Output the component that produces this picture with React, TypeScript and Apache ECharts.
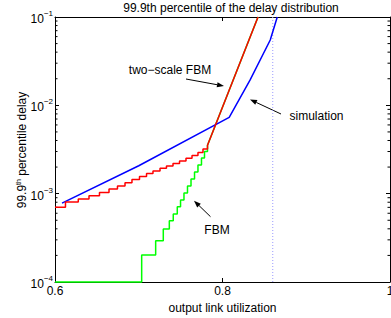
import React, { useEffect, useRef } from 'react';
import * as echarts from 'echarts';

// ---- data ----
const xTickValues = [0.6, 0.8, 1.0];
const yRange = [1e-4, 1e-1];

const simX = [0.6084, 0.7, 0.808, 0.833, 0.857, 0.8654];
const simY = [7.83e-4, 2.07e-3, 7.32e-3, 1.94e-2, 5.49e-2, 0.1];

const twoScaleStepX = [0.6, 0.6125, 0.6278, 0.6406, 0.6531, 0.6645, 0.6746, 0.6836, 0.6919, 0.7009, 0.7093, 0.717, 0.7254, 0.7331, 0.7409, 0.7487, 0.7564, 0.7636, 0.7707, 0.7767, 0.7821];
const twoScaleStepY = [7.01e-4, 8.05e-4, 8.7e-4, 9.46e-4, 1.031e-3, 1.129e-3, 1.221e-3, 1.33e-3, 1.446e-3, 1.564e-3, 1.691e-3, 1.805e-3, 1.936e-3, 2.056e-3, 2.195e-3, 2.343e-3, 2.514e-3, 2.704e-3, 2.924e-3, 3.203e-3, 3.527e-3];

const fbmStepX = [0.6, 0.7035, 0.7202, 0.7293, 0.7365, 0.7412, 0.746, 0.7499, 0.754, 0.7582, 0.7624, 0.7666, 0.7707, 0.7749, 0.7785, 0.7821];
const fbmStepY = [1e-4, 2.02e-4, 2.93e-4, 3.98e-4, 4.94e-4, 5.88e-4, 7.12e-4, 8.47e-4, 1.017e-3, 1.221e-3, 1.466e-3, 1.758e-3, 2.11e-3, 2.533e-3, 3.0e-3, 3.527e-3];

// common steep (large-buffer) branch of both models
const steepX = [0.7821, 0.8424];
const steepY = [3.527e-3, 0.1];

const limitUtil = [0.86, 0.86];
const limitY = [1e-4, 1e-1];

const minorMantissas = [2, 3, 4, 5, 6, 7, 8, 9];
const minorDecades = [1e-4, 1e-3, 1e-2];

const FONT = '"Liberation Sans", Arial, Helvetica, sans-serif';
const FS = 12;

function stairs(xs: number[], ys: number[]) {
  const pts: number[][] = [];
  for (let i = 0; i < xs.length; i++) {
    pts.push([xs[i], ys[i]]);
    if (i + 1 < xs.length) pts.push([xs[i + 1], ys[i]]);
  }
  return pts;
}
function zip(xs: number[], ys: number[]) {
  return xs.map((x, i) => [x, ys[i]]);
}

function arrow(x1: number, y1: number, x2: number, y2: number) {
  const dx = x2 - x1, dy = y2 - y1;
  const L = Math.hypot(dx, dy);
  const ux = dx / L, uy = dy / L;
  const hl = 7, hw = 2.6;
  const bx = x2 - ux * hl, by = y2 - uy * hl;
  return [
    { type: 'line', shape: { x1, y1, x2: bx, y2: by }, style: { stroke: '#000', lineWidth: 1 }, silent: true },
    {
      type: 'polygon',
      shape: { points: [[x2, y2], [bx - uy * hw, by + ux * hw], [bx + uy * hw, by - ux * hw]] },
      style: { fill: '#000' },
      silent: true,
    },
  ];
}

export default function App() {
  const ref = useRef<HTMLDivElement>(null);
  useEffect(() => {
    if (!ref.current) return;
    const chart = echarts.init(ref.current, null, { renderer: 'svg' });

    const minorData: number[][] = [];
    minorDecades.forEach((d) => minorMantissas.forEach((m) => minorData.push([xTickValues[0], m * d])));

    const expLabel = (v: number) => {
      const e = Math.round(Math.log10(v));
      return `{b|10}{s|${e < 0 ? '\u2212' + -e : e}}`;
    };

    const axisLineStyle = { color: '#000', width: 1 };
    const baseY = {
      type: 'log',
      logBase: 10,
      min: yRange[0],
      max: yRange[1],
      splitLine: { show: false },
      axisLine: { show: true, onZero: false, lineStyle: axisLineStyle },
      axisTick: { show: true, inside: true, length: 4, lineStyle: { color: '#000' } },
    };
    const baseX = {
      type: 'value',
      min: xTickValues[0],
      max: xTickValues[xTickValues.length - 1],
      interval: 0.2,
      splitLine: { show: false },
      axisLine: { show: true, onZero: false, lineStyle: axisLineStyle },
      axisTick: { show: true, inside: true, length: 4, lineStyle: { color: '#000' } },
    };

    const txt = (text: string, x: number, y: number) => ({
      type: 'text',
      x,
      y,
      style: { text, fontSize: FS, fontFamily: FONT, fill: '#000', align: 'center', verticalAlign: 'middle' },
      silent: true,
    });

    chart.setOption({
      animation: false,
      backgroundColor: '#fff',
      grid: { left: 55, top: 17, right: 1, bottom: 36, containLabel: false, outerBoundsMode: 'none' },
      xAxis: [
        {
          ...baseX,
          position: 'bottom',
          axisLabel: {
            show: true,
            margin: 3,
            fontSize: FS,
            fontFamily: FONT,
            color: '#000',
            showMinLabel: true,
            showMaxLabel: true,
            formatter: (v: number) => String(+v.toFixed(1)),
          },
          name: 'output link utilization',
          nameLocation: 'middle',
          nameGap: 16,
          nameTextStyle: { fontSize: FS, fontFamily: FONT, color: '#000', verticalAlign: 'top' },
        },
        { ...baseX, position: 'top', axisLabel: { show: false } },
      ],
      yAxis: [
        {
          ...baseY,
          position: 'left',
          axisLabel: {
            show: true,
            margin: 2,
            formatter: expLabel,
            showMinLabel: true,
            showMaxLabel: true,
            rich: {
              b: { fontSize: FS, fontFamily: FONT, color: '#000', lineHeight: 15, padding: [4, 0, 0, 0] },
              s: { fontSize: 8, fontFamily: FONT, color: '#000', lineHeight: 9, verticalAlign: 'top' },
            },
          },
        },
        { ...baseY, position: 'right', axisLabel: { show: false } },
      ],
      graphic: [
        txt('99.9th percentile of the delay distribution', 231, 7.5),
        {
          type: 'text',
          x: 22,
          y: 150,
          rotation: Math.PI / 2,
          style: {
            text: '{a|99.9}{s|th}{a| percentile delay}',
            align: 'center',
            verticalAlign: 'middle',
            rich: {
              a: { fontSize: FS, fontFamily: FONT, fill: '#000', lineHeight: 15 },
              s: { fontSize: 7, fontFamily: FONT, fill: '#000', lineHeight: 8, verticalAlign: 'top' },
            },
          },
          silent: true,
        },
        txt('two\u2212scale FBM', 170, 70),
        txt('simulation', 316.5, 116),
        txt('FBM', 217, 230),
        ...arrow(186, 79, 224, 86),
        ...arrow(281, 114, 250, 99.5),
        ...arrow(210.5, 216.7, 194, 200.7),
      ],
      series: [
        {
          name: 'limit',
          type: 'line',
          data: zip(limitUtil, limitY),
          symbol: 'none',
          silent: true,
          lineStyle: { color: '#9a9aff', width: 1, type: [1, 2] },
          z: 1,
        },
        {
          name: 'minor ticks',
          type: 'custom',
          data: minorData,
          encode: { x: 0, y: 1 },
          clip: false,
          silent: true,
          renderItem: (params: any, api: any) => {
            const v = api.value(1);
            const l = api.coord([xTickValues[0], v]);
            const r = api.coord([xTickValues[xTickValues.length - 1], v]);
            return {
              type: 'group',
              children: [
                { type: 'line', shape: { x1: l[0], y1: l[1], x2: l[0] + 2.5, y2: l[1] }, style: { stroke: '#000', lineWidth: 1 } },
                { type: 'line', shape: { x1: r[0], y1: r[1], x2: r[0] - 2.5, y2: r[1] }, style: { stroke: '#000', lineWidth: 1 } },
              ],
            };
          },
        },
        {
          name: 'FBM',
          type: 'line',
          data: [...stairs(fbmStepX, fbmStepY), ...zip(steepX, steepY).slice(1)],
          symbol: 'none',
          clip: false,
          lineStyle: { color: '#00ff00', width: 1.5 },
          z: 3,
        },
        {
          name: 'simulation',
          type: 'line',
          data: zip(simX, simY),
          symbol: 'none',
          clip: false,
          lineStyle: { color: '#0000ff', width: 1.5 },
          z: 4,
        },
        {
          name: 'two-scale FBM',
          type: 'line',
          data: [...stairs(twoScaleStepX, twoScaleStepY), ...zip(steepX, steepY).slice(1)],
          symbol: 'none',
          clip: false,
          lineStyle: { color: '#ff0000', width: 1.5 },
          z: 5,
        },
      ],
    });
    return () => chart.dispose();
  }, []);
  return <div ref={ref} style={{ width: 391, height: 318, position: 'absolute', left: 0, top: 0 }} />;
}
